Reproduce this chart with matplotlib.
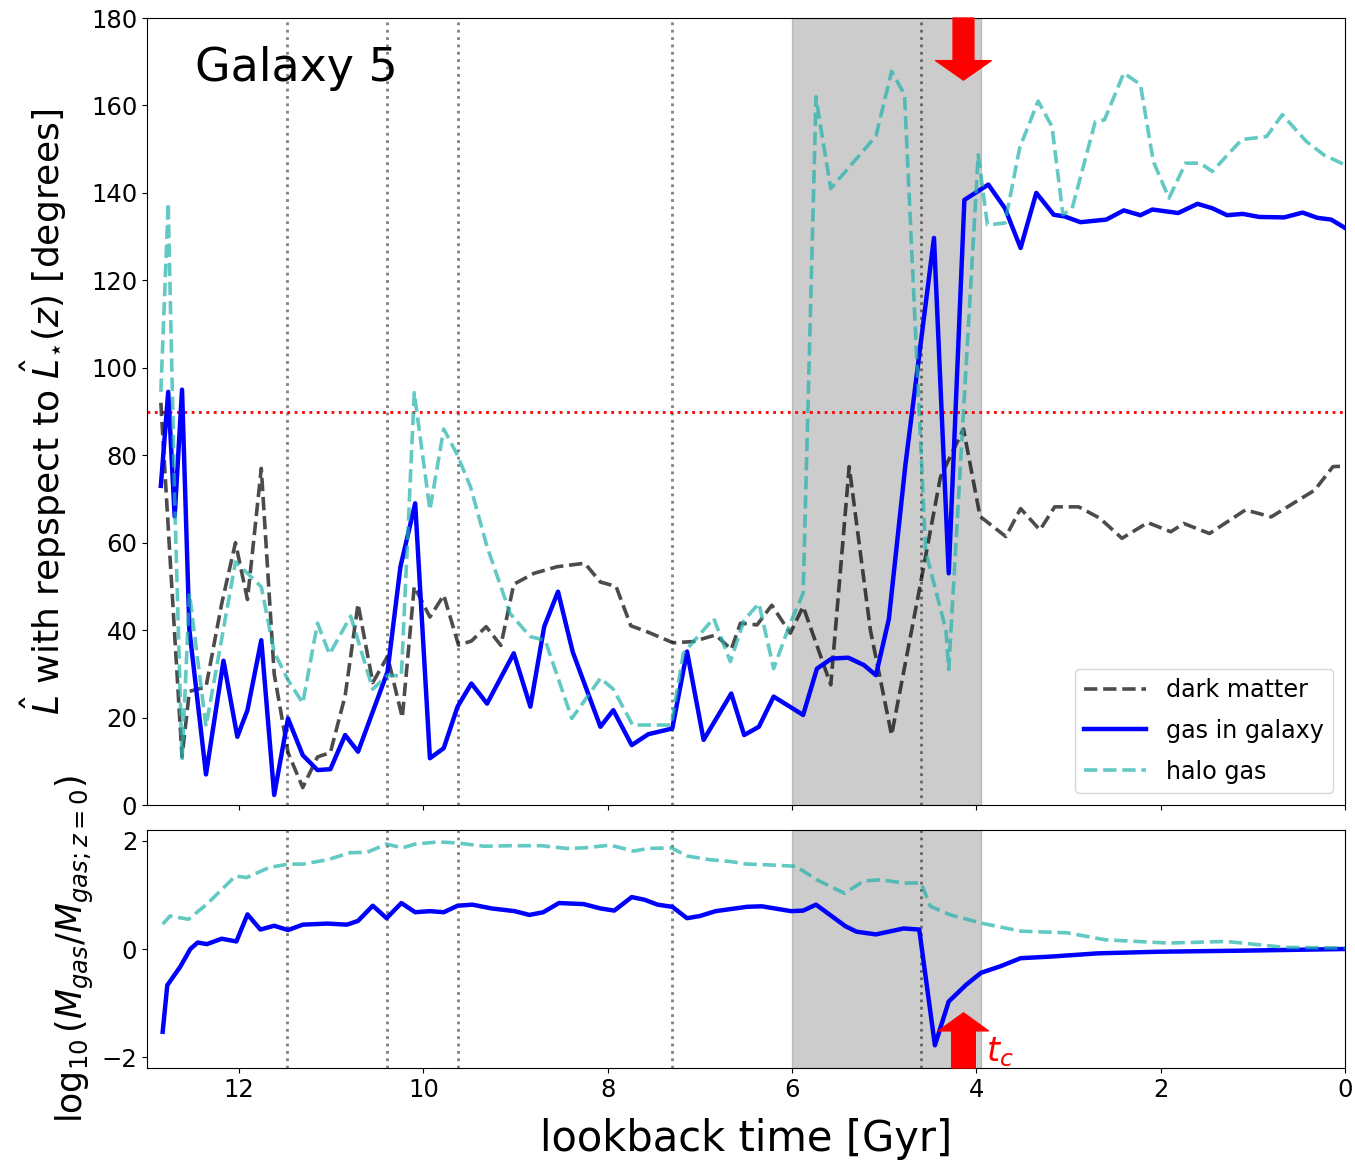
import numpy as np
import matplotlib
matplotlib.use('Agg')
import matplotlib.pyplot as plt

# 暗物质角动量方向的夹角 (lookback time [Gyr], degrees)
t_dm = [12.85, 12.76, 12.62, 12.54, 12.36, 12.19, 12.04, 11.91, 11.76, 11.62,
        11.47, 11.31, 11.15, 11.01, 10.85, 10.71, 10.55, 10.39, 10.23, 10.10,
        9.93, 9.78, 9.62, 9.48, 9.32, 9.16, 9.02, 8.80, 8.55, 8.25,
        8.08, 7.91, 7.75, 7.57, 7.29, 7.07, 6.83, 6.66, 6.56, 6.38,
        6.22, 6.02, 5.88, 5.58, 5.38, 5.15, 4.92, 4.63, 4.39, 4.14,
        3.96, 3.68, 3.52, 3.31, 3.15, 2.89, 2.66, 2.42, 2.14, 1.89,
        1.75, 1.47, 1.08, 0.80, 0.33, 0.13, 0.0]
ang_dm = [92, 60, 11, 26, 27, 46, 60, 47, 77, 30,
          12, 4, 11, 12, 25, 46, 28, 34, 20, 50,
          43, 48, 36.6, 37.5, 40.8, 36.5, 50.5, 53, 54.5, 55.3,
          51, 50, 41, 39.6, 37.1, 37.4, 38.9, 35.6, 41.6, 41.2,
          45.7, 39.3, 45.4, 27.5, 77.4, 40, 16, 48, 75, 86,
          66, 61.4, 67.8, 62.9, 68.2, 68.2, 65.6, 61, 64.6, 62.5,
          64.4, 62.1, 67.5, 65.9, 72, 77.4, 77.5]

# 星系内气体
t_gas = [12.85, 12.77, 12.70, 12.62, 12.54, 12.36, 12.17, 12.02, 11.91, 11.76,
         11.62, 11.47, 11.31, 11.15, 11.01, 10.85, 10.71, 10.39, 10.25, 10.09,
         9.93, 9.78, 9.63, 9.48, 9.31, 9.02, 8.84, 8.69, 8.54, 8.38,
         8.08, 7.94, 7.74, 7.56, 7.30, 7.14, 6.96, 6.66, 6.52, 6.36,
         6.20, 5.88, 5.73, 5.57, 5.39, 5.22, 5.09, 4.95, 4.77, 4.46,
         4.30, 4.13, 3.87, 3.69, 3.52, 3.35, 3.16, 3.04, 2.87, 2.59,
         2.40, 2.22, 2.09, 1.81, 1.60, 1.44, 1.28, 1.11, 0.93, 0.66,
         0.46, 0.30, 0.15, 0.0]
ang_gas = [73, 94.5, 66, 95, 40, 7, 33, 15.6, 21.7, 37.7,
           2.3, 19.8, 11.4, 8, 8.2, 16, 12.2, 30.5, 54.5, 69,
           10.7, 13, 22.5, 27.8, 23.2, 34.7, 22.5, 40.8, 48.8, 35,
           17.9, 21.7, 13.7, 16.2, 17.5, 35.1, 14.9, 25.5, 16, 17.9,
           24.8, 20.6, 31.2, 33.5, 33.7, 32, 29.7, 42.5, 77.8, 129.7,
           53, 138.4, 141.9, 136.5, 127.4, 140, 135, 134.6, 133.3, 133.9,
           136, 134.9, 136.2, 135.4, 137.5, 136.5, 134.9, 135.2, 134.5, 134.4,
           135.5, 134.3, 133.9, 132]

# 晕气体
t_halo = [12.85, 12.77, 12.70, 12.62, 12.54, 12.36, 12.19, 12.04, 11.91, 11.76,
          11.62, 11.47, 11.31, 11.15, 11.02, 10.79, 10.55, 10.39, 10.24, 10.10,
          9.93, 9.78, 9.64, 9.49, 9.31, 9.06, 8.84, 8.68, 8.39, 8.08,
          7.94, 7.73, 7.57, 7.31, 7.18, 6.85, 6.67, 6.52, 6.36, 6.20,
          6.02, 5.88, 5.74, 5.70, 5.58, 5.09, 4.92, 4.78, 4.55, 4.33,
          4.30, 3.98, 3.88, 3.69, 3.53, 3.33, 3.18, 3.06, 2.96, 2.71,
          2.61, 2.40, 2.22, 2.08, 1.91, 1.73, 1.57, 1.44, 1.12, 0.85,
          0.68, 0.42, 0.23, 0.0]
ang_halo = [94.5, 137.7, 70, 10.3, 48.4, 18, 38, 55.6, 53, 49.9,
            35, 28.6, 23.3, 41.6, 34.5, 43.2, 26.5, 29.7, 29.5, 94.3,
            67.5, 86, 80.4, 72.8, 59.1, 43.8, 38.5, 37.7, 19.8, 29,
            26.5, 18.3, 18.3, 18.3, 34.7, 42.7, 32.8, 42.3, 46.1, 31.2,
            41.6, 48.4, 162, 156.4, 141, 153, 167.8, 162.5, 58, 40,
            31, 148.7, 132.7, 133.1, 150.3, 161, 155.2, 135, 136.5, 156.3,
            156.7, 167.4, 164.8, 147.2, 138.8, 146.8, 146.8, 144.9, 152.2, 152.9,
            157.9, 151.8, 148.7, 146.4]

# 气体质量 log10(M_gas / M_gas(z=0))
t_mgas = [12.83, 12.78, 12.64, 12.53, 12.45, 12.35, 12.19, 12.03, 11.91, 11.77,
          11.62, 11.47, 11.31, 11.04, 10.83, 10.71, 10.55, 10.40, 10.24, 10.09,
          9.93, 9.78, 9.63, 9.47, 9.26, 9.01, 8.85, 8.70, 8.53, 8.26,
          8.08, 7.93, 7.74, 7.60, 7.46, 7.30, 7.14, 7.00, 6.83, 6.49,
          6.33, 6.01, 5.88, 5.74, 5.42, 5.30, 5.09, 4.79, 4.62, 4.45,
          4.30, 4.11, 3.95, 3.74, 3.52, 3.19, 2.68, 2.01, 1.08, 0.0]
m_gas = [-1.53, -0.67, -0.33, 0.0, 0.12, 0.09, 0.19, 0.14, 0.64, 0.36,
         0.43, 0.35, 0.45, 0.47, 0.45, 0.52, 0.8, 0.57, 0.85, 0.68,
         0.7, 0.68, 0.8, 0.82, 0.75, 0.7, 0.63, 0.68, 0.85, 0.83,
         0.75, 0.71, 0.96, 0.91, 0.82, 0.78, 0.57, 0.61, 0.7, 0.78,
         0.79, 0.70, 0.71, 0.82, 0.42, 0.32, 0.27, 0.38, 0.36, -1.78,
         -0.97, -0.66, -0.44, -0.32, -0.17, -0.14, -0.08, -0.05, -0.03, 0.0]
t_mhalo = [12.83, 12.75, 12.55, 12.35, 12.04, 11.92, 11.67, 11.46, 11.31, 11.04,
           10.80, 10.61, 10.40, 10.23, 10.09, 9.84, 9.63, 9.34, 9.05, 8.72,
           8.45, 8.26, 7.97, 7.72, 7.56, 7.31, 7.14, 6.89, 6.68, 6.49,
           6.31, 5.96, 5.73, 5.43, 5.22, 5.04, 4.79, 4.60, 4.50, 4.28,
           3.95, 3.52, 3.02, 2.60, 1.92, 1.29, 0.65, 0.0]
m_halo = [0.46, 0.61, 0.55, 0.83, 1.35, 1.32, 1.51, 1.57, 1.57, 1.65,
          1.78, 1.79, 1.94, 1.87, 1.94, 1.98, 1.96, 1.9, 1.91, 1.91,
          1.86, 1.87, 1.92, 1.81, 1.86, 1.87, 1.72, 1.65, 1.62, 1.57,
          1.56, 1.53, 1.28, 1.03, 1.26, 1.28, 1.22, 1.22, 0.79, 0.63,
          0.48, 0.33, 0.3, 0.17, 0.11, 0.14, 0.03, 0.02]

# 并合时刻与交叉时间
t_events = [11.48, 10.40, 9.63, 7.30, 4.60]
span_start, span_end = 6.0, 3.95
t_c = 4.14

fig = plt.figure(figsize=(13.55, 11.62), dpi=100)
ax1 = fig.add_axes([0.1085, 0.3072, 0.8841, 0.6773])
ax2 = fig.add_axes([0.1085, 0.0809, 0.8841, 0.2048], sharex=ax1)

c_dm = (0.0, 0.0, 0.0, 0.7)
c_halo = (32/255, 178/255, 170/255, 0.7)

# 上图: 角度
ax1.axvspan(span_end, span_start, color='gray', alpha=0.4, zorder=0)
for te in t_events:
    ax1.axvline(te, color='k', alpha=0.5, ls=':', lw=2)
ax1.axhline(90, color='red', ls=':', lw=2)
ax1.plot(t_dm, ang_dm, color=c_dm, ls='--', lw=2.6, label='dark matter')
ax1.plot(t_gas, ang_gas, color='blue', lw=3.2, label='gas in galaxy')
ax1.plot(t_halo, ang_halo, color=c_halo, ls='--', lw=2.6, label='halo gas')
ax1.set_ylim(0, 180)
ax1.set_yticks(np.arange(0, 181, 20))
ax1.set_xlim(13.0, 0)
ax1.tick_params(labelbottom=False, labelsize=17.5)
ax1.set_ylabel(r'$\hat{L}$ with repspect to $\hat{L}_{\star}(z)$ [degrees]', fontsize=26, labelpad=16)
ax1.text(0.04, 0.936, 'Galaxy 5', transform=ax1.transAxes, fontsize=33, va='center')
ax1.legend(loc='lower right', fontsize=17.2, handlelength=2.6, labelspacing=0.7)
ax1.annotate('', xy=(t_c, 165.8), xytext=(t_c, 180),
             arrowprops=dict(facecolor='red', edgecolor='red', width=15,
                             headwidth=40, headlength=14, shrink=0),
             annotation_clip=False)

# 下图: 气体质量
ax2.axvspan(span_end, span_start, color='gray', alpha=0.4, zorder=0)
for te in t_events:
    ax2.axvline(te, color='k', alpha=0.5, ls=':', lw=2)
ax2.plot(t_mgas, m_gas, color='blue', lw=3.2)
ax2.plot(t_mhalo, m_halo, color=c_halo, ls='--', lw=2.6)
ax2.set_ylim(-2.2, 2.2)
ax2.set_yticks([-2, 0, 2])
ax2.tick_params(labelsize=17.5)
ax2.set_xticks([12, 10, 8, 6, 4, 2, 0])
ax2.set_xlabel('lookback time [Gyr]', fontsize=30, labelpad=12)
ax2.set_ylabel(r'$\log_{10}(M_{gas}/M_{gas;z=0})$', fontsize=25)
ax2.annotate('', xy=(t_c, -1.18), xytext=(t_c, -2.2),
             arrowprops=dict(facecolor='red', edgecolor='red', width=17,
                             headwidth=36, headlength=13, shrink=0),
             annotation_clip=False)
ax2.text(3.90, -1.9, r'$t_c$', color='red', fontsize=24, va='center')

fig.align_ylabels([ax1, ax2])
plt.savefig('out.png', dpi=100)
